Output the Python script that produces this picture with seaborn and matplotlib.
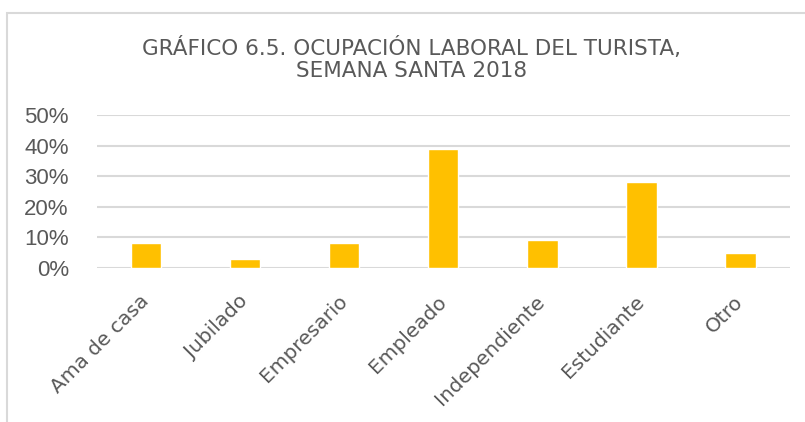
import matplotlib
matplotlib.use("Agg")
import matplotlib.pyplot as plt
import matplotlib.patches as mpatches
import pandas as pd
import seaborn as sns
from matplotlib.ticker import PercentFormatter

categories = ["Ama de casa", "Jubilado", "Empresario", "Empleado",
              "Independiente", "Estudiante", "Otro"]
shares = [0.08, 0.03, 0.08, 0.39, 0.09, 0.28, 0.05]
y_ticks = [0.0, 0.1, 0.2, 0.3, 0.4, 0.5]

TITLE = "GRÁFICO 6.5. OCUPACIÓN LABORAL DEL TURISTA,\nSEMANA SANTA 2018"
BAR_COLOR = "#FFC000"
TEXT_COLOR = "#595959"
GRID_COLOR = "#D9D9D9"

sns.set_style("white")
plt.rcParams["font.family"] = ["DejaVu Sans"]

df = pd.DataFrame({"ocupacion": categories, "share": shares})

fig = plt.figure(figsize=(8.05, 4.22), dpi=100)
ax = fig.add_axes([0.12, 0.365, 0.861, 0.3625])

sns.barplot(data=df, x="ocupacion", y="share", color=BAR_COLOR,
            width=0.31, saturation=1, ax=ax, zorder=3)

ax.set_ylim(0, 0.5)
ax.set_yticks(y_ticks)
ax.yaxis.set_major_formatter(PercentFormatter(1.0, decimals=0))
ax.grid(axis="y", color=GRID_COLOR, linewidth=1.5, zorder=0)
ax.set_axisbelow(True)
for side in ["top", "right", "left", "bottom"]:
    ax.spines[side].set_visible(False)
ax.set_xlabel("")
ax.set_ylabel("")
ax.tick_params(axis="y", labelsize=15, labelcolor=TEXT_COLOR, length=0, pad=20)
ax.tick_params(axis="x", labelsize=14.5, labelcolor=TEXT_COLOR, length=0, pad=22)
for lab in ax.get_xticklabels():
    lab.set_rotation(45)
    lab.set_ha("right")
    lab.set_va("center")
    lab.set_rotation_mode("anchor")
for lab in ax.get_yticklabels():
    lab.set_family(["Liberation Sans", "DejaVu Sans"])
    lab.set_fontsize(16)

fig.text(0.511, 0.86, TITLE, ha="center", va="center", fontsize=15.5,
         color=TEXT_COLOR, linespacing=1.15)

# chart frame
fig.patches.append(mpatches.Rectangle((7 / 805, -0.1), 1.2, 1 - 13 / 422 + 0.1,
                                      transform=fig.transFigure, fill=False,
                                      edgecolor=GRID_COLOR, linewidth=1.5))

fig.savefig("out.png", dpi=100)
